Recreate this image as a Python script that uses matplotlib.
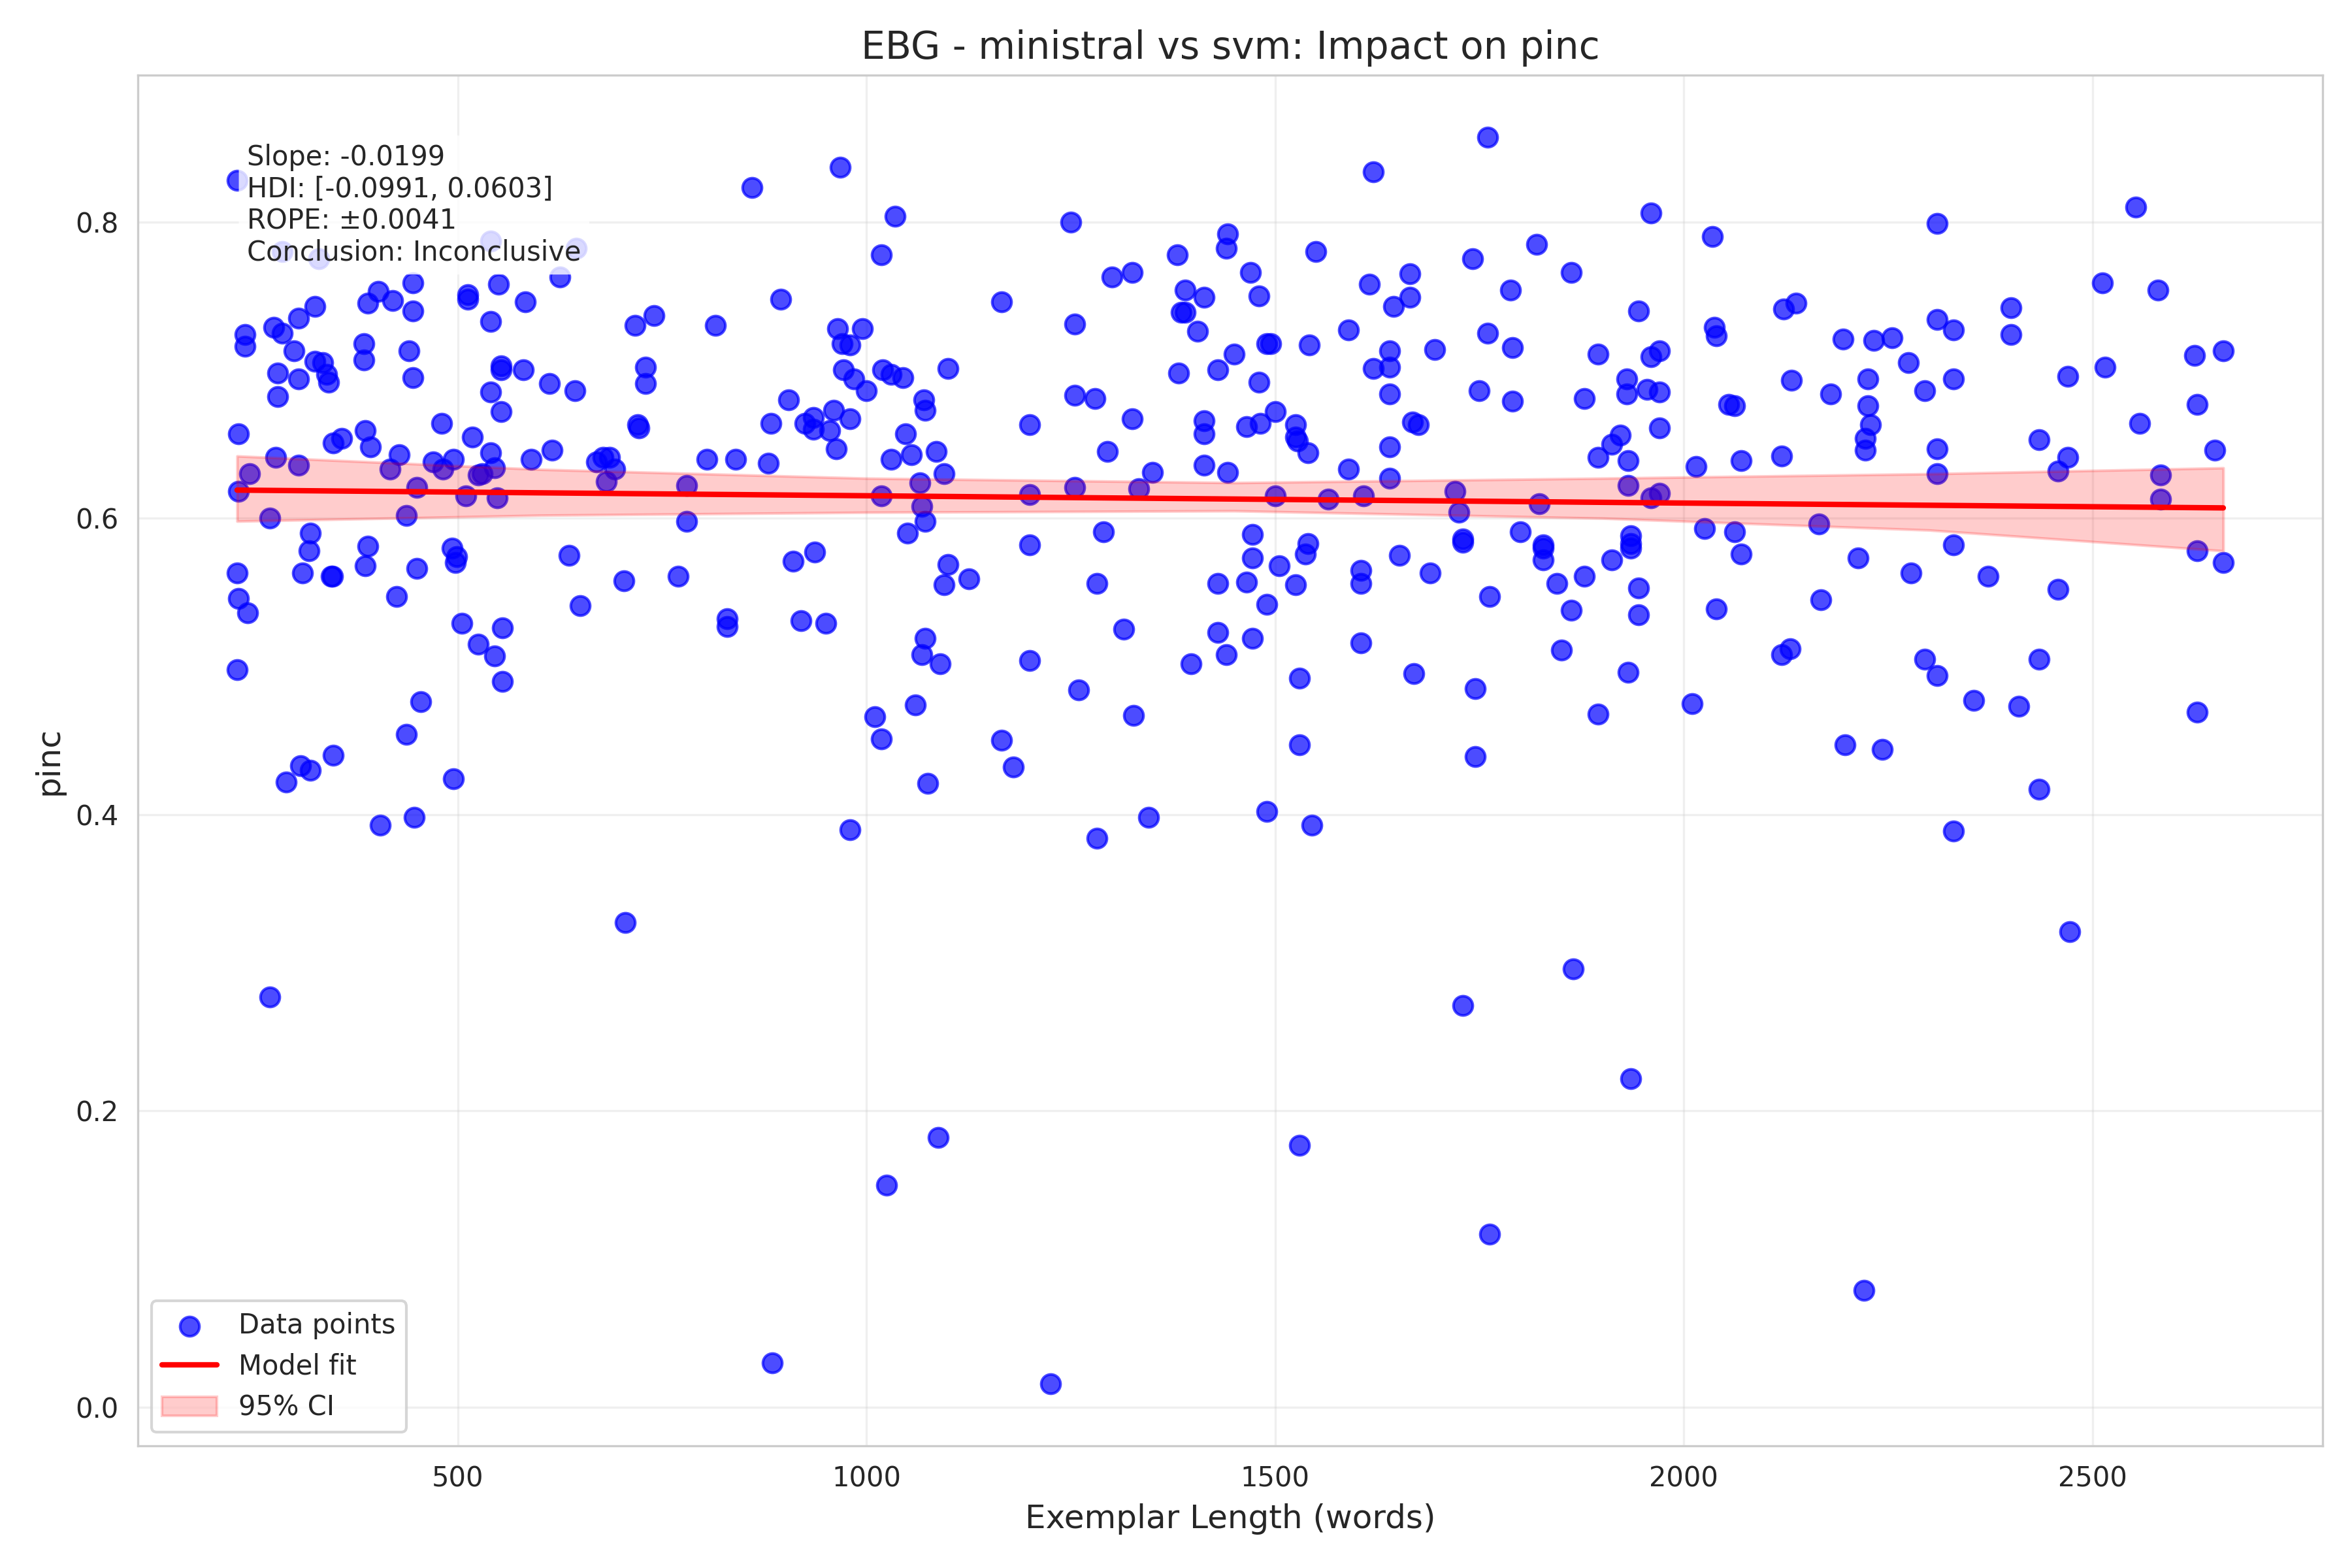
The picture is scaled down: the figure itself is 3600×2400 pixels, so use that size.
import numpy as np
import matplotlib
matplotlib.use("Agg")
import matplotlib.pyplot as plt
import seaborn as sns

# exemplar length (words) and pinc
length = [
    230, 232, 232, 230, 232, 230, 240, 240, 245, 243, 270, 270, 275, 277, 280, 280, 285, 285, 290, 300,
    305, 305, 305, 308, 310, 318, 320, 320, 325, 325, 330, 335, 340, 342, 345, 347, 348, 348, 358, 385,
    385, 387, 387, 390, 390, 393, 403, 405, 417, 420, 425, 428, 437, 437, 440, 445, 445, 445, 447, 450,
    450, 455, 470, 480, 482, 493, 495, 495, 497, 499,
    505, 510, 512, 512, 518, 525, 525, 530, 540, 540, 540, 540, 545, 545, 548, 550, 553, 553, 553, 555,
    555, 580, 583, 590, 612, 615, 625, 636, 643, 645, 650, 670, 678, 682, 686, 692, 703, 705, 717, 720,
    722, 730, 730, 740, 770, 780, 780, 805, 815, 830, 830, 840, 860, 880, 883, 885, 895, 905, 910, 920,
    925, 935, 935, 937, 950, 955, 960, 963, 965, 968, 970, 972, 980, 980, 980, 985, 995, 1000,
    1010, 1018, 1018, 1018, 1020, 1025, 1030, 1030, 1035, 1045, 1048, 1050, 1055, 1060, 1065, 1068, 1068, 1070, 1072, 1072,
    1072, 1075, 1085, 1088, 1090, 1095, 1095, 1100, 1100, 1125, 1165, 1165, 1180, 1200, 1200, 1200, 1200, 1225, 1250, 1255,
    1255, 1255, 1260, 1280, 1282, 1282, 1290, 1295, 1300, 1315, 1325, 1325, 1327, 1333, 1345, 1350, 1380, 1382, 1385, 1390,
    1390, 1397, 1405, 1413, 1413, 1413, 1413, 1430, 1430, 1430, 1440, 1442, 1442, 1440, 1450, 1465, 1465, 1470, 1472, 1472,
    1472, 1480, 1480, 1482, 1490, 1490, 1490, 1495,
    1500, 1500, 1505, 1525, 1525, 1527, 1525, 1530, 1530, 1530, 1537, 1540, 1540, 1542, 1545, 1550, 1565, 1590, 1590, 1605,
    1605, 1605, 1608, 1615, 1620, 1620, 1640, 1640, 1640, 1640, 1640, 1645, 1652, 1665, 1665, 1668, 1675, 1670, 1690, 1695,
    1720, 1725, 1730, 1730, 1730, 1742, 1745, 1745, 1750, 1760, 1760, 1762, 1762, 1788, 1790, 1790, 1800, 1820, 1823, 1828,
    1828, 1828, 1845, 1850, 1862, 1862, 1865, 1878, 1878, 1895, 1895, 1895, 1912, 1912, 1922, 1930, 1930, 1932, 1932, 1932,
    1935, 1935, 1935, 1935, 1945, 1945, 1945, 1955, 1960, 1960, 1960, 1970, 1970, 1970, 1970,
    2010, 2015, 2025, 2035, 2037, 2040, 2040, 2055, 2062, 2062, 2070, 2070, 2120, 2120, 2122, 2130, 2132, 2137, 2165, 2168,
    2180, 2195, 2197, 2213, 2220, 2222, 2222, 2225, 2225, 2228, 2232, 2243, 2255, 2275, 2278, 2295, 2295, 2310, 2310, 2310,
    2310, 2310, 2330, 2330, 2330, 2330, 2355, 2372, 2400, 2400, 2410, 2435, 2435, 2435, 2458, 2458, 2470, 2470, 2472, 2512,
    2515, 2553, 2558, 2580, 2583, 2583, 2625, 2628, 2628, 2628, 2650, 2660, 2660,
]
pinc = [
    0.828, 0.657, 0.618, 0.563, 0.546, 0.498, 0.724, 0.716, 0.630, 0.536, 0.600, 0.277, 0.729, 0.641, 0.698, 0.682, 0.725, 0.780, 0.422, 0.713,
    0.694, 0.636, 0.735, 0.433, 0.563, 0.578, 0.590, 0.430, 0.743, 0.706, 0.775, 0.705, 0.697, 0.692, 0.561, 0.561, 0.440, 0.651, 0.654, 0.718,
    0.707, 0.659, 0.568, 0.745, 0.581, 0.648, 0.753, 0.393, 0.633, 0.747, 0.547, 0.643, 0.602, 0.454, 0.713, 0.759, 0.740, 0.695, 0.398, 0.621,
    0.566, 0.476, 0.638, 0.664, 0.633, 0.580, 0.640, 0.424, 0.570, 0.574,
    0.529, 0.615, 0.748, 0.751, 0.655, 0.515, 0.629, 0.630, 0.733, 0.644, 0.685, 0.787, 0.634, 0.507, 0.614, 0.758, 0.703, 0.700, 0.672, 0.526,
    0.490, 0.700, 0.746, 0.640, 0.691, 0.646, 0.763, 0.575, 0.686, 0.782, 0.541, 0.638, 0.641, 0.625, 0.641, 0.633, 0.558, 0.327, 0.730, 0.663,
    0.661, 0.702, 0.691, 0.737, 0.561, 0.622, 0.598, 0.640, 0.730, 0.532, 0.527, 0.640, 0.823, 0.637, 0.664, 0.030, 0.748, 0.680, 0.571, 0.531,
    0.664, 0.668, 0.660, 0.577, 0.529, 0.659, 0.673, 0.647, 0.728, 0.837, 0.718, 0.700, 0.717, 0.667, 0.390, 0.694, 0.728, 0.686,
    0.466, 0.778, 0.451, 0.615, 0.700, 0.150, 0.640, 0.697, 0.804, 0.695, 0.657, 0.590, 0.643, 0.474, 0.624, 0.508, 0.608, 0.680, 0.673, 0.519,
    0.598, 0.421, 0.645, 0.182, 0.502, 0.630, 0.555, 0.701, 0.569, 0.559, 0.450, 0.746, 0.432, 0.663, 0.582, 0.616, 0.504, 0.016, 0.800, 0.731,
    0.683, 0.621, 0.484, 0.681, 0.556, 0.384, 0.591, 0.645, 0.763, 0.525, 0.766, 0.667, 0.467, 0.620, 0.398, 0.631, 0.778, 0.698, 0.739, 0.739,
    0.754, 0.502, 0.726, 0.749, 0.666, 0.657, 0.636, 0.700, 0.556, 0.523, 0.782, 0.792, 0.631, 0.508, 0.711, 0.557, 0.662, 0.766, 0.589, 0.573,
    0.519, 0.750, 0.692, 0.664, 0.718, 0.542, 0.402, 0.718,
    0.672, 0.615, 0.568, 0.663, 0.655, 0.652, 0.555, 0.492, 0.447, 0.177, 0.576, 0.583, 0.644, 0.717, 0.393, 0.780, 0.613, 0.727, 0.633, 0.565,
    0.556, 0.516, 0.615, 0.758, 0.834, 0.701, 0.713, 0.702, 0.684, 0.648, 0.627, 0.743, 0.575, 0.749, 0.765, 0.665, 0.663, 0.495, 0.563, 0.714,
    0.618, 0.604, 0.586, 0.584, 0.271, 0.775, 0.485, 0.439, 0.686, 0.857, 0.725, 0.547, 0.117, 0.754, 0.715, 0.679, 0.591, 0.785, 0.610, 0.582,
    0.580, 0.572, 0.556, 0.511, 0.766, 0.538, 0.296, 0.681, 0.561, 0.711, 0.641, 0.468, 0.650, 0.572, 0.656, 0.684, 0.694, 0.622, 0.639, 0.496,
    0.588, 0.583, 0.580, 0.222, 0.740, 0.553, 0.535, 0.687, 0.806, 0.709, 0.614, 0.713, 0.685, 0.661, 0.617,
    0.475, 0.635, 0.593, 0.790, 0.729, 0.723, 0.539, 0.677, 0.676, 0.591, 0.639, 0.576, 0.642, 0.508, 0.741, 0.512, 0.693, 0.745, 0.596, 0.545,
    0.684, 0.721, 0.447, 0.573, 0.079, 0.646, 0.654, 0.694, 0.676, 0.663, 0.720, 0.444, 0.722, 0.705, 0.563, 0.686, 0.505, 0.799, 0.734, 0.647,
    0.630, 0.494, 0.727, 0.694, 0.582, 0.389, 0.477, 0.561, 0.742, 0.724, 0.473, 0.653, 0.505, 0.417, 0.632, 0.552, 0.696, 0.641, 0.321, 0.759,
    0.702, 0.810, 0.664, 0.754, 0.629, 0.613, 0.710, 0.677, 0.578, 0.469, 0.646, 0.713, 0.570,
]

# model fit and its 95% interval
fit_x = [230, 2660]
fit_y = [0.619, 0.607]
ci_x = [230, 600, 1000, 1450, 1900, 2300, 2660]
ci_lo = [0.598, 0.602, 0.604, 0.605, 0.600, 0.592, 0.578]
ci_hi = [0.642, 0.633, 0.627, 0.624, 0.627, 0.630, 0.634]

stats_text = ("Slope: -0.0199\nHDI: [-0.0991, 0.0603]\n"
              "ROPE: \u00b10.0041\nConclusion: Inconclusive")

sns.set_style("whitegrid")
fig, ax = plt.subplots(figsize=(12, 8))

ax.scatter(length, pinc, color="blue", alpha=0.7, s=50, label="Data points")
ax.plot(fit_x, fit_y, color="red", linewidth=2, label="Model fit")
ax.fill_between(ci_x, ci_lo, ci_hi, color="red", alpha=0.2, label="95% CI")

ax.text(0.05, 0.95, stats_text, transform=ax.transAxes, fontsize=10,
        va="top", bbox=dict(boxstyle="round", facecolor="white", alpha=0.8, edgecolor="none"))

ax.set_title("EBG - ministral vs svm: Impact on pinc", fontsize=14)
ax.set_xlabel("Exemplar Length (words)", fontsize=12)
ax.set_ylabel("pinc", fontsize=12)
ax.legend(loc="lower left", fontsize=10)
ax.grid(True, alpha=0.3)

plt.tight_layout()
plt.savefig("out.png", dpi=300)
